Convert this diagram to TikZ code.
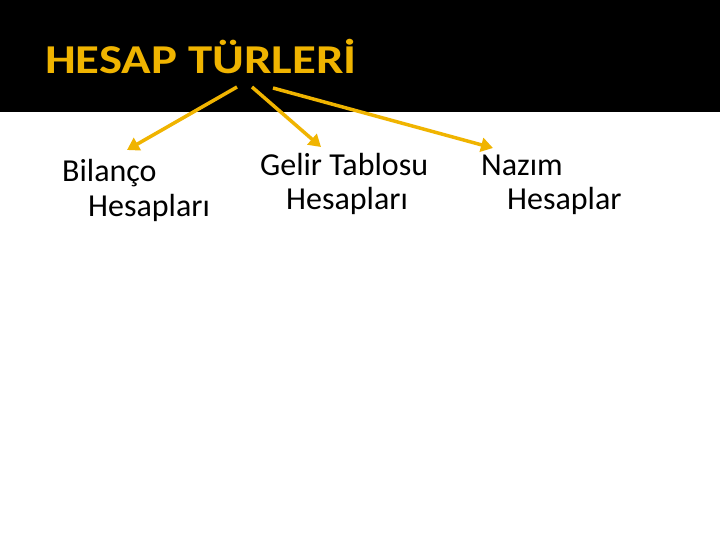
\documentclass[tikz,border=0pt]{standalone}
\usepackage{fontspec}
\setmainfont{Carlito}
\newfontfamily\titlefont[FakeStretch=1.19]{Carlito}
\usetikzlibrary{arrows.meta}
\definecolor{gold}{HTML}{F0B400}
\begin{document}
\begin{tikzpicture}[x=1pt,y=-1pt,
  lbl/.style={anchor=base west,inner sep=0pt,font=\fontsize{32}{32}\selectfont,text=black},
  conn/.style={draw=gold,line width=3.5pt,-{Triangle[length=12pt,width=14pt]}}]
\useasboundingbox (0,0) rectangle (720,540);
\fill[white] (0,0) rectangle (720,540);
\fill[black] (0,0) rectangle (720,112);
\node[anchor=base west,inner sep=0pt,text=gold,font=\titlefont\bfseries\fontsize{41}{41}\selectfont] (title) at (45,74) {HESAP TÜRLERİ};
\node[lbl] (b1) at (62,182) {Bilanço};
\node[lbl] (b2) at (88,216) {Hesapları};
\node[lbl] (g1) at (260,176) {Gelir Tablosu};
\node[lbl] (g2) at (286,210) {Hesapları};
\node[lbl] (n1) at (481,176) {Nazım};
\node[lbl] (n2) at (507,210) {Hesaplar};
\coordinate (s1) at (237,87);
\coordinate (s2) at (252,87);
\coordinate (s3) at (273,88);
\coordinate (t1) at (127,150);
\coordinate (t2) at (321,147);
\coordinate (t3) at (493,148);
\draw[conn] (s1) -- (t1);
\draw[conn] (s2) -- (t2);
\draw[conn] (s3) -- (t3);
\end{tikzpicture}
\end{document}
